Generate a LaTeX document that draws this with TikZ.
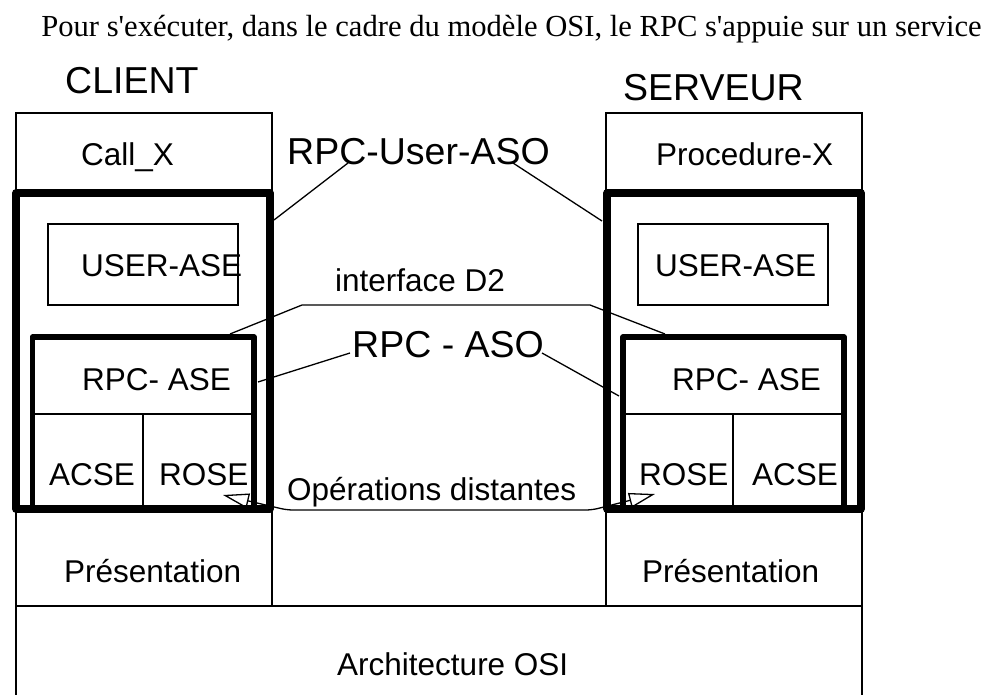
\documentclass[tikz,border=0pt]{standalone}
\usepackage{fontspec}
\setmainfont{Liberation Sans}
\newfontfamily\titlefont[Ligatures=TeXOff]{Liberation Serif}
\usetikzlibrary{arrows.meta}
\begin{document}
\begin{tikzpicture}[x=1pt,y=-1pt,
  thinl/.style={line width=1.3pt},
  conn/.style={line width=1.3pt},
  thickA/.style={line width=7.5pt, line join=round},
  thickB/.style={line width=5.5pt, line join=round},
  lbl/.style={anchor=base west, inner sep=0pt, font=\fontsize{31.5}{36}\selectfont},
  big/.style={anchor=base west, inner sep=0pt, font=\fontsize{37.5}{42}\selectfont}]
\useasboundingbox (0,0) rectangle (997,695);
\fill[white] (0,0) rectangle (997,695);

% column outlines
\draw[thinl] (16,113) rectangle (272,606);
\draw[thinl] (606,113) rectangle (862,606);
\draw[thinl] (16,606) rectangle (862,705);
% left cells
\draw[thinl] (48,224) rectangle (238,305);
\draw[thinl] (32.5,414) -- (254,414);
\draw[thinl] (143,414) -- (143,509);
% right cells
\draw[thinl] (638,224) rectangle (828,305);
\draw[thinl] (623,414) -- (844,414);
\draw[thinl] (733,414) -- (733,509);

% text
\node[anchor=base, inner sep=0pt, font=\titlefont\fontsize{30.6}{35}\selectfont] (title) at (511.5,37) {Pour s'exécuter, dans le cadre du modèle OSI, le RPC s'appuie sur un service};
\node[big] (client) at (65,94) {CLIENT};
\node[big] (serveur) at (623,101) {SERVEUR};
\node[lbl] (callx) at (81,166) {Call\_X};
\node[lbl] (procx) at (656,166) {Procedure-X};
\node[big] (useraso) at (287,165) {RPC-User-ASO};
\node[lbl] (userL) at (81,277) {USER-ASE};
\node[lbl] (userR) at (655,277) {USER-ASE};
\node[lbl] (d2) at (335,292) {interface D2};
\node[big] (rpcaso) at (352,357) {RPC - ASO};
\node[lbl] (rpcL) at (82,390) {RPC- ASE};
\node[lbl] (rpcR) at (672,390) {RPC- ASE};
\node[lbl] (acseL) at (49,485) {ACSE};
\node[lbl] (roseL) at (159,485) {ROSE};
\node[lbl] (roseR) at (639,485) {ROSE};
\node[lbl] (acseR) at (752,485) {ACSE};
\node[lbl] (ops) at (287,500) {Opérations distantes};
\node[lbl] (presL) at (64,582) {Présentation};
\node[lbl] (presR) at (642,582) {Présentation};
\node[lbl] (archi) at (337,675) {Architecture OSI};

% connector end points
\coordinate (uaL) at (348,163);
\coordinate (uaR) at (513,163);
\coordinate (boxL) at (274,220);
\coordinate (boxR) at (602,221);
\coordinate (d2L) at (230,334);
\coordinate (d2a) at (302,305);
\coordinate (d2b) at (590,305);
\coordinate (d2R) at (665,334);
\coordinate (raL) at (350,353);
\coordinate (raR) at (542,353);
\coordinate (rpcLe) at (258,382);
\coordinate (rpcRe) at (619,396);
\coordinate (tipL) at (223,495);
\coordinate (tipR) at (655,494);
\coordinate (opa) at (287,510);
\coordinate (opb) at (592,510);

\draw[conn] (uaL) -- (boxL);
\draw[conn] (uaR) -- (boxR);
\draw[conn] (d2L) -- (d2a) -- (d2b) -- (d2R);
\draw[conn] (raL) -- (rpcLe);
\draw[conn] (raR) -- (rpcRe);
\draw[conn, rounded corners=6pt, {Triangle[open,length=26pt,width=15pt]}-{Triangle[open,length=26pt,width=15pt]}]
  (tipL) -- (opa) -- (opb) -- (tipR);

% thick boxes
\draw[thickA] (16,193) rectangle (270,509);
\draw[thickB] (32.5,337) rectangle (254,509);
\draw[thickA] (607,193) rectangle (861,509);
\draw[thickB] (623,337) rectangle (844,509);
\end{tikzpicture}
\end{document}
